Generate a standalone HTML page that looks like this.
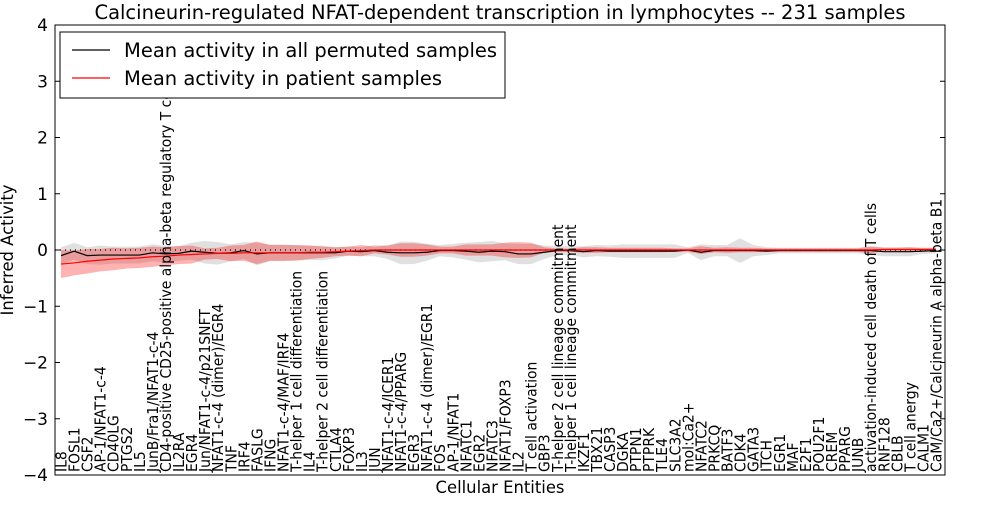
<!DOCTYPE html>
<html><head><meta charset="utf-8"><style>
body{margin:0;background:#fff;}
svg{font-family:"DejaVu Sans","Liberation Sans",sans-serif;}
</style></head><body>
<svg id="chart" width="1000" height="500" xmlns="http://www.w3.org/2000/svg"></svg>
<script>
const categories=["IL8","FOSL1","CSF2","AP-1/NFAT1-c-4","CD40LG","PTGS2","IL5","JunB/Fra1/NFAT1-c-4","CD4-positive CD25-positive alpha-beta regulatory T cell","IL2RA","EGR4","Jun/NFAT1-c-4/p21SNFT","NFAT1-c-4 (dimer)/EGR4","TNF","IRF4","FASLG","IFNG","NFAT1-c-4/MAF/IRF4","T-helper 1 cell differentiation","IL4","T-helper 2 cell differentiation","CTLA4","FOXP3","IL3","JUN","NFAT1-c-4/ICER1","NFAT1-c-4/PPARG","EGR3","NFAT1-c-4 (dimer)/EGR1","FOS","AP-1/NFAT1","NFATC1","EGR2","NFATC3","NFAT1/FOXP3","IL2","T cell activation","GBP3","T-helper 2 cell lineage commitment","T-helper 1 cell lineage commitment","IKZF1","TBX21","CASP3","DGKA","PTPN1","PTPRK","TLE4","SLC3A2","mol:Ca2+","NFATC2","PRKCQ","BATF3","CDK4","GATA3","ITCH","EGR1","MAF","E2F1","POU2F1","CREM","PPARG","JUNB","activation-induced cell death of T cells","RNF128","CBLB","T cell anergy","CALM1","CaM/Ca2+/Calcineurin A alpha-beta B1"];
const permMean=[-0.1,-0.02,-0.1,-0.09,-0.09,-0.09,-0.09,-0.05,-0.07,-0.06,-0.02,-0.04,-0.06,-0.05,-0.01,-0.07,-0.05,-0.05,-0.05,-0.05,-0.05,-0.05,-0.02,-0.03,-0.01,-0.04,-0.05,-0.05,-0.04,-0.01,-0.01,-0.02,-0.04,-0.02,-0.03,-0.07,-0.07,-0.04,-0.01,-0.01,-0.03,-0.01,-0.02,-0.02,-0.02,-0.02,-0.02,-0.02,0,-0.04,-0.01,-0.01,-0.01,-0.01,-0.02,-0.01,-0.01,-0.01,-0.01,-0.01,-0.01,-0.01,-0.01,-0.03,-0.03,-0.03,-0.02,-0.01];
const permSpread=[0.15,0.15,0.15,0.17,0.15,0.15,0.15,0.15,0.15,0.13,0.15,0.2,0.2,0.15,0.15,0.2,0.15,0.15,0.13,0.13,0.13,0.1,0.08,0.08,0.1,0.12,0.2,0.2,0.15,0.1,0.12,0.15,0.18,0.18,0.15,0.18,0.18,0.12,0.08,0.08,0.1,0.1,0.1,0.12,0.12,0.12,0.12,0.12,0.05,0.14,0.1,0.1,0.22,0.1,0.07,0.05,0.05,0.05,0.05,0.05,0.05,0.05,0.08,0.08,0.08,0.08,0.05,0.05];
const patMean=[-0.25,-0.23,-0.2,-0.18,-0.16,-0.15,-0.14,-0.12,-0.11,-0.09,-0.08,-0.07,-0.06,-0.06,-0.05,-0.05,-0.05,-0.05,-0.05,-0.04,-0.04,-0.03,-0.02,-0.01,0,0,0,0,0,0,0,0,0,0,0,0,0,0,0,0,0,0,0,0,0,0,0,0,0,0,0,0,0,0,0,0,0,0,0,0,0,0,0,0.01,0.01,0.01,0.01,0.01];
const patSpread=[0.25,0.22,0.22,0.2,0.2,0.18,0.18,0.18,0.16,0.16,0.16,0.1,0.1,0.14,0.14,0.2,0.14,0.14,0.14,0.12,0.1,0.08,0.08,0.1,0.06,0.08,0.12,0.12,0.1,0.06,0.06,0.1,0.1,0.1,0.13,0.14,0.13,0.05,0.03,0.03,0.05,0.05,0.04,0.04,0.04,0.04,0.04,0.03,0.03,0.07,0.04,0.05,0.04,0.04,0.03,0.03,0.03,0.03,0.03,0.03,0.03,0.03,0.06,0.03,0.03,0.04,0.03,0.03];
const yTicks=[4,3,2,1,0,-1,-2,-3,-4];

const svg=document.getElementById('chart');
const NS='http://www.w3.org/2000/svg';
const L=55,R=945,T=25,B=475;
function x(i){return 61+i*(936-61)/(categories.length-1);}
function y(v){return T+(4-v)*(B-T)/8;}
function mk(tag,attrs,parent){const e=document.createElementNS(NS,tag);for(const k in attrs)e.setAttribute(k,attrs[k]);(parent||svg).appendChild(e);return e;}
function band(mean,spread,fill,op,name){
  let d='';for(let i=0;i<mean.length;i++)d+=(i?'L':'M')+x(i)+','+y(mean[i]+spread[i]);
  for(let i=mean.length-1;i>=0;i--)d+='L'+x(i)+','+y(mean[i]-spread[i]);
  const p=mk('path',{d:d+'Z',fill:fill,'fill-opacity':op,stroke:'none'});
  
  
}
function line(mean,col,name){
  let d='';for(let i=0;i<mean.length;i++)d+=(i?'L':'M')+x(i)+','+y(mean[i]);
  const p=mk('path',{d:d,fill:'none',stroke:col,'stroke-width':1.2});
  
  
}
band(permMean,permSpread,'#999',0.3,'permuted-band');
band(patMean,patSpread,'#f00',0.3,'patient-band');
const z=mk('line',{x1:L,x2:R,y1:y(0),y2:y(0),stroke:'#000','stroke-dasharray':'1,4','stroke-width':1.2});


line(permMean,'#000','permuted-mean-line');
line(patMean,'#f00','patient-mean-line');

const fr=mk('rect',{x:L,y:T,width:R-L,height:B-T,fill:'none',stroke:'#000','stroke-width':1});



yTicks.forEach(v=>{
  mk('line',{x1:L,x2:L+5,y1:y(v),y2:y(v),stroke:'#000'});
  mk('line',{x1:R,x2:R-5,y1:y(v),y2:y(v),stroke:'#000'});
  const t=mk('text',{x:L-7,y:y(v)+6,'text-anchor':'end','font-size':17});
  t.textContent=v<0?'\u2212'+(-v):v;
  
  
});
categories.forEach((c,i)=>{
  const t=mk('text',{transform:'translate('+(x(i)+5.5)+','+(B-3)+') rotate(-90) scale(0.93,1)','font-size':15});
  t.textContent=c;
  
  
});

const ti=mk('text',{x:500,y:19,'text-anchor':'middle','font-size':19.5});
ti.textContent='Calcineurin-regulated NFAT-dependent transcription in lymphocytes -- 231 samples';


const xl=mk('text',{x:500,y:493,'text-anchor':'middle','font-size':16.4});
xl.textContent='Cellular Entities';


const yl=mk('text',{transform:'translate(13,250) rotate(-90)','text-anchor':'middle','font-size':16.4});
yl.textContent='Inferred Activity';



const lg=mk('g',{});


mk('rect',{x:60,y:32,width:445,height:66,fill:'#fff',stroke:'#000'},lg);
mk('line',{x1:72,x2:110,y1:50,y2:50,stroke:'#000','stroke-width':1.2},lg);
mk('line',{x1:72,x2:110,y1:78,y2:78,stroke:'#f00','stroke-width':1.2},lg);
const l1=mk('text',{x:124,y:57,'font-size':19.5},lg);
l1.textContent='Mean activity in all permuted samples';


const l2=mk('text',{x:124,y:85,'font-size':19.5},lg);
l2.textContent='Mean activity in patient samples';


</script>
</body></html>
